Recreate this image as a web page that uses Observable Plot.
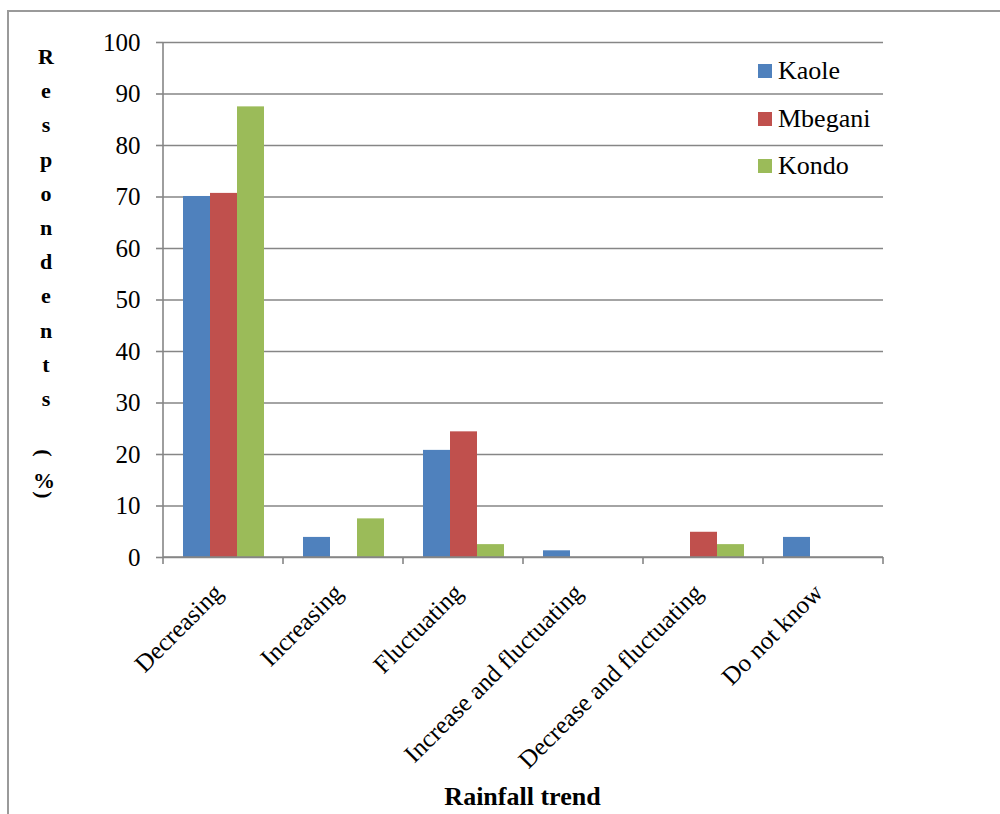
<!DOCTYPE html>
<html>
<head>
<meta charset="utf-8">
<script src="https://cdn.jsdelivr.net/npm/d3@7"></script>
<script src="https://cdn.jsdelivr.net/npm/@observablehq/plot@0.6"></script>
<style>
  html, body { margin: 0; padding: 0; background: #fff; overflow: hidden; }
  #chart { position: relative; width: 1000px; height: 814px; overflow: hidden;
           font-family: "Liberation Serif", "Times New Roman", serif; color: #000; }
  #chart svg { position: absolute; left: 0; top: 0; }
  .border { position: absolute; left: 7px; top: 10px; width: 1100px; height: 900px;
            border: 2px solid #9a9a9a; box-sizing: border-box; }
  .ylabel span { position: absolute; width: 30px; margin-left: -15px; text-align: center;
                 font-family: "Liberation Serif", serif; font-weight: bold; font-size: 22px; line-height: 24px; }
  .legend { position: absolute; left: 758px; top: 0; }
  .legend .item { position: absolute; left: 0; white-space: nowrap; font-family: "Liberation Serif", serif;
                  font-size: 26px; line-height: 30px; }
  .legend .swatch { position: absolute; left: 0; top: 8px; width: 14px; height: 14px; }
  .legend .name { position: absolute; left: 20px; top: 0; }
  .xtitle { position: absolute; left: 0; width: 1045px; top: 782px; text-align: center;
            font-family: "Liberation Serif", serif; font-weight: bold; font-size: 26px; line-height: 30px; }
</style>
</head>
<body>
<div id="chart">
  <div class="border"></div>
</div>
<script>
// Rainfall trend categories
const trends = ["Decreasing", "Increasing", "Fluctuating", "Increase and fluctuating", "Decrease and fluctuating", "Do not know"];
// Villages (series)
const villages = ["Kaole", "Mbegani", "Kondo"];
const colors = ["#4F81BD", "#C0504D", "#9BBB59"];
// Respondents (%) per trend, one array per village
const kaole   = [70.1, 3.9, 20.8, 1.3, 0, 3.9];
const mbegani = [70.7, 0, 24.4, 0, 4.9, 0];
const kondo   = [87.5, 7.5, 2.5, 0, 2.5, 0];
const yTicks = [0, 10, 20, 30, 40, 50, 60, 70, 80, 90, 100];

const series = [kaole, mbegani, kondo];
const rows = [];
villages.forEach((v, j) => trends.forEach((t, i) => rows.push({trend: t, village: v, value: series[j][i]})));

const gridColor = "#868686";

const plot = Plot.plot({
  width: 1000,
  height: 814,
  marginLeft: 160,
  marginRight: 115,
  marginTop: 42,
  marginBottom: 257,
  style: {fontFamily: "'Liberation Serif', 'Times New Roman', serif", fontSize: "25px", color: "#000", background: "transparent"},
  fx: {domain: trends, padding: 0, label: null},
  x: {domain: villages, paddingInner: 0, paddingOuter: 0.7, axis: null},
  y: {domain: [0, 100], label: null},
  color: {domain: villages, range: colors},
  marks: [
    Plot.gridY(yTicks, {stroke: gridColor, strokeOpacity: 1, strokeWidth: 1.6}),
    Plot.barY(rows.filter(d => d.value > 0), {fx: "trend", x: "village", y: "value", fill: "village"}),
    Plot.axisY(yTicks, {tickSize: 7, tickPadding: 16, stroke: gridColor, strokeWidth: 1.6, fill: "#000", fontSize: 25, label: null}),
    Plot.axisFx({anchor: "bottom", tickSize: 0, tickPadding: 31, tickRotate: -45, dx: -5, fill: "#000", fontSize: 25, label: null})
  ]
});

const chart = document.getElementById("chart");
chart.appendChild(plot);

// Vertical axis line and category boundary ticks on the baseline
const fxs = plot.scale("fx"), ys = plot.scale("y");
const edges = trends.map(t => fxs.apply(t));
edges.push(fxs.apply(trends[trends.length - 1]) + fxs.bandwidth);
const y0 = ys.apply(0), y100 = ys.apply(100);
const g = d3.select(plot).append("g").attr("stroke", gridColor).attr("stroke-width", 1.6);
g.append("line").attr("x1", edges[0]).attr("x2", edges[0]).attr("y1", y100).attr("y2", y0);
g.append("line").attr("x1", edges[0]).attr("x2", edges[edges.length - 1]).attr("y1", y0).attr("y2", y0);
g.selectAll(".edge").data(edges).join("line")
  .attr("x1", d => d).attr("x2", d => d).attr("y1", y0).attr("y2", y0 + 7);

// Stacked y-axis title
const ylab = document.createElement("div");
ylab.className = "ylabel";
"Respondents".split("").forEach((c, i) => {
  const s = document.createElement("span");
  s.textContent = c;
  s.style.left = "46px";
  s.style.top = (45 + i * 34.2) + "px";
  ylab.appendChild(s);
});
// "(%)" with the brackets turned sideways, as in stacked text
[["(", 441, true], ["%", 469, false], [")", 483, true]].forEach(([c, top, rot]) => {
  const s = document.createElement("span");
  s.textContent = c;
  s.style.left = "44px";
  s.style.top = top + "px";
  if (rot) s.style.transform = "rotate(90deg)";
  ylab.appendChild(s);
});
chart.appendChild(ylab);

// Legend
const legend = document.createElement("div");
legend.className = "legend";
villages.forEach((v, i) => {
  const item = document.createElement("div");
  item.className = "item";
  item.style.top = (56 + i * 47.5) + "px";
  item.innerHTML = `<span class="swatch" style="background:${colors[i]}"></span><span class="name">${v}</span>`;
  legend.appendChild(item);
});
chart.appendChild(legend);

// X-axis title
const xt = document.createElement("div");
xt.className = "xtitle";
xt.textContent = "Rainfall trend";
chart.appendChild(xt);
</script>
</body>
</html>
